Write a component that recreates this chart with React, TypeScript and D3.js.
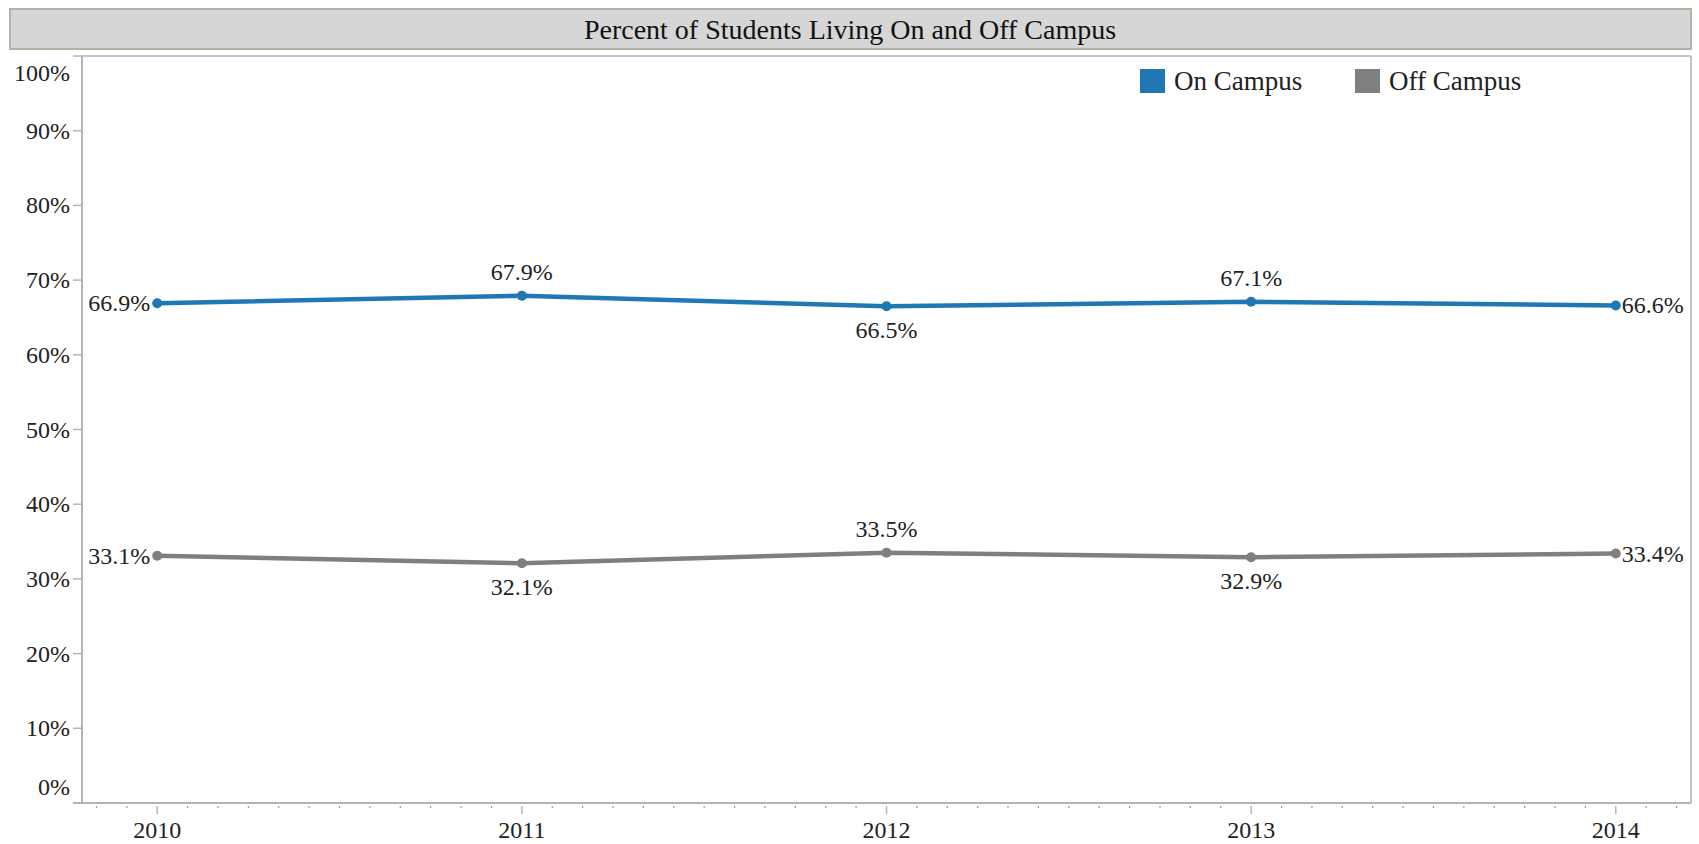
import React from "react";
import * as d3 from "d3";

const years = [2010, 2011, 2012, 2013, 2014];
const onCampus = [66.9, 67.9, 66.5, 67.1, 66.6];
const offCampus = [33.1, 32.1, 33.5, 32.9, 33.4];
// label placement: l = left, a = above, b = below, r = right
const onPos = ["l", "a", "b", "a", "r"];
const offPos = ["l", "b", "a", "b", "r"];
const yTicks = [0, 10, 20, 30, 40, 50, 60, 70, 80, 90, 100];
const seriesNames = ["On Campus", "Off Campus"];
const colors = ["#1f77b4", "#7f7f7f"];
const title = "Percent of Students Living On and Off Campus";

const W = 1699;
const H = 844;
const left = 82;
const right = 1691;
const top = 56;
const bottom = 803;
const FONT = "'Liberation Serif', 'Times New Roman', serif";

export default function App() {
  const x = d3
    .scaleLinear()
    .domain([2010 - 75 / 363.5, 2014 + 75 / 363.5])
    .range([left, right]);
  const y = d3.scaleLinear().domain([0, 100]).range([bottom, top]);

  const months = d3
    .range(Math.ceil(x.domain()[0] * 12), Math.floor(x.domain()[1] * 12) + 1)
    .map((m) => m / 12);

  const line = d3
    .line<number>()
    .x((_, i) => x(years[i]))
    .y((d) => y(d));

  const series = [
    { vals: onCampus, pos: onPos },
    { vals: offCampus, pos: offPos },
  ];

  const labelProps = (px: number, py: number, p: string) => {
    if (p === "l") return { x: px - 7, y: py, anchor: "end" };
    if (p === "r") return { x: px + 6, y: py, anchor: "start" };
    if (p === "a") return { x: px, y: py - 24, anchor: "middle" };
    return { x: px, y: py + 24, anchor: "middle" };
  };

  return (
    <svg
      width={W}
      height={H}
      style={{ position: "absolute", left: 0, top: 0, background: "#fff" }}
      fontFamily={FONT}
    >
      {/* title bar */}
      <rect x={10} y={9} width={1681} height={40} fill="#d6d6d6" stroke="#b5b2a4" strokeWidth={2} />
      <text x={850} y={29} textAnchor="middle" dominantBaseline="central" fontSize={28} fill="#111">
        {title}
      </text>

      {/* plot border */}
      <line x1={left} x2={right} y1={top} y2={top} stroke="#c4c4c4" strokeWidth={2} />
      <line x1={right} x2={right} y1={top} y2={bottom} stroke="#c4c4c4" strokeWidth={2} />

      {/* y axis */}
      <line x1={left} x2={left} y1={top} y2={bottom} stroke="#b4b4b4" strokeWidth={2} />
      {yTicks.map((t) => {
        const ty = y(t);
        const ly = t === 100 ? top + 17 : t === 0 ? bottom - 16 : ty;
        return (
          <g key={t}>
            <line x1={73} x2={left} y1={ty} y2={ty} stroke="#b4b4b4" strokeWidth={1.5} />
            <text x={70} y={ly} textAnchor="end" dominantBaseline="central" fontSize={24} fill="#222">
              {t}%
            </text>
          </g>
        );
      })}

      {/* x axis */}
      <line x1={73} x2={right} y1={bottom} y2={bottom} stroke="#b4b4b4" strokeWidth={2} />
      {months.map((m, i) => {
        const major = years.some((yr) => Math.abs(yr - m) < 1e-6);
        return (
          <line
            key={i}
            x1={x(m)}
            x2={x(m)}
            y1={bottom + 3}
            y2={bottom + (major ? 11 : 5)}
            stroke={major ? "#b4b4b4" : "#9a9a9a"}
            strokeWidth={major ? 1.5 : 1.2}
          />
        );
      })}
      {years.map((yr) => (
        <text key={yr} x={x(yr)} y={830} textAnchor="middle" dominantBaseline="central" fontSize={24} fill="#222">
          {yr}
        </text>
      ))}

      {/* lines */}
      {series.map((s, si) => (
        <g key={si}>
          <path d={line(s.vals) || ""} fill="none" stroke={colors[si]} strokeWidth={4.5} strokeLinejoin="round" />
          {s.vals.map((v, i) => (
            <circle key={i} cx={x(years[i])} cy={y(v)} r={5} fill={colors[si]} />
          ))}
          {s.vals.map((v, i) => {
            const lp = labelProps(x(years[i]), y(v), s.pos[i]);
            return (
              <text
                key={"t" + i}
                x={lp.x}
                y={lp.y}
                textAnchor={lp.anchor as any}
                dominantBaseline="central"
                fontSize={24}
                fill="#222"
              >
                {v.toFixed(1)}%
              </text>
            );
          })}
        </g>
      ))}

      {/* legend */}
      {seriesNames.map((n, i) => {
        const lx = i === 0 ? 1140 : 1355;
        return (
          <g key={n}>
            <rect x={lx} y={69} width={25} height={24} fill={colors[i]} />
            <text x={lx + 34} y={81} dominantBaseline="central" fontSize={27} fill="#222">
              {n}
            </text>
          </g>
        );
      })}
    </svg>
  );
}
